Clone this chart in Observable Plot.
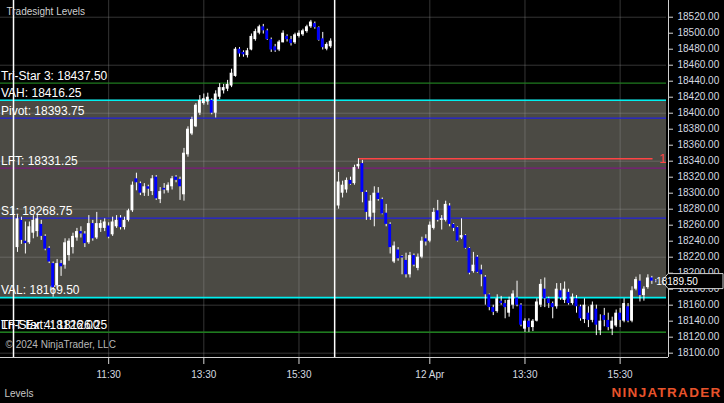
<!DOCTYPE html>
<html><head><meta charset="utf-8">
<script src="https://cdn.jsdelivr.net/npm/d3@7"></script>
<script src="https://cdn.jsdelivr.net/npm/@observablehq/plot@0.6"></script>
<style>html,body{margin:0;padding:0;background:#000;overflow:hidden}</style>
</head><body><div id="chart"></div>
<script>
// bar index: 1..81 = 11 Apr 09:35..16:15, 82..162 = 12 Apr 09:35..16:15 (5-minute bars)
const open = [18232,18266,18240,18238,18250,18252,18261,18246,18231,18212,18184,18212,18210,18222,18232,18244,18252,18249,18238,18262,18244,18256,18256,18259,18248,18258,18269,18257,18266,18278,18318,18312,18300,18308,18302,18320,18292,18306,18303,18308,18320,18317,18298,18348,18374,18383,18400,18412,18414,18416,18400,18420,18428,18430,18434,18446,18480,18476,18472,18479,18492,18500,18508,18503,18492,18483,18479,18488,18496,18492,18488,18496,18498,18502,18508,18512,18507,18493,18480,18483,18490,
18284,18300,18304,18316,18312,18333,18337,18301,18270,18275,18300,18292,18275,18261,18214,18229,18221,18216,18198,18222,18206,18220,18243,18240,18256,18278,18266,18266,18284,18261,18257,18244,18247,18231,18202,18220,18204,18195,18173,18157,18152,18165,18162,18150,18160,18169,18160,18130,18140,18132,18140,18160,18180,18168,18162,18158,18178,18166,18176,18162,18168,18158,18142,18150,18141,18155,18128,18147,18141,18130,18134,18150,18140,18158,18140,18180,18190,18172,18182,18194,18190];
const high = [18272,18270,18264,18264,18272,18274,18266,18248,18233,18214,18217,18216,18243,18243,18250,18256,18258,18252,18272,18266,18276,18266,18268,18263,18270,18272,18272,18270,18280,18314,18325,18314,18312,18310,18322,18322,18307,18312,18313,18321,18322,18320,18356,18383,18395,18412,18422,18424,18425,18418,18428,18437,18436,18441,18455,18482,18482,18478,18481,18499,18505,18510,18511,18505,18494,18486,18491,18503,18498,18496,18500,18503,18505,18510,18516,18514,18508,18501,18488,18493,18491,
18326,18315,18319,18320,18335,18343,18341,18303,18297,18308,18307,18294,18286,18263,18239,18232,18222,18225,18226,18224,18224,18245,18248,18264,18281,18291,18272,18290,18287,18262,18258,18268,18248,18232,18226,18222,18210,18197,18174,18160,18173,18171,18166,18170,18178,18190,18162,18143,18143,18142,18168,18192,18194,18170,18164,18187,18187,18189,18180,18174,18172,18160,18168,18158,18164,18160,18148,18156,18150,18145,18154,18156,18168,18162,18183,18195,18198,18183,18198,18196,18192];
const low = [18226,18236,18224,18236,18243,18245,18241,18228,18212,18170,18180,18196,18205,18215,18224,18240,18244,18232,18236,18240,18242,18251,18252,18243,18246,18256,18254,18254,18264,18276,18303,18297,18296,18296,18297,18291,18287,18299,18300,18304,18313,18291,18290,18345,18372,18382,18397,18410,18410,18398,18394,18417,18424,18427,18432,18445,18470,18470,18469,18478,18490,18498,18499,18491,18476,18476,18477,18488,18489,18484,18486,18494,18496,18500,18506,18505,18490,18479,18478,18481,18489,
18280,18294,18300,18310,18310,18330,18288,18266,18266,18258,18290,18273,18258,18224,18212,18215,18198,18194,18194,18208,18203,18218,18234,18238,18254,18264,18254,18264,18258,18252,18239,18242,18230,18198,18200,18200,18183,18160,18153,18147,18150,18160,18143,18145,18155,18158,18133,18126,18126,18127,18139,18157,18157,18156,18143,18155,18166,18162,18160,18160,18150,18140,18137,18132,18138,18122,18122,18133,18128,18122,18132,18132,18138,18138,18138,18178,18164,18165,18180,18186,18188];
const close = [18268,18241,18237,18258,18266,18268,18246,18230,18214,18182,18212,18208,18238,18240,18246,18252,18249,18237,18262,18243,18262,18262,18264,18245,18264,18266,18257,18266,18278,18310,18313,18300,18308,18305,18318,18293,18302,18304,18310,18318,18316,18308,18350,18380,18392,18410,18416,18418,18420,18400,18424,18432,18432,18436,18450,18480,18474,18473,18478,18496,18502,18508,18503,18492,18479,18478,18489,18500,18492,18487,18498,18500,18503,18508,18514,18507,18491,18482,18486,18490,18490,
18314,18310,18316,18311,18332,18336,18301,18276,18290,18300,18292,18274,18261,18232,18234,18218,18219,18198,18222,18210,18220,18240,18239,18260,18276,18266,18268,18286,18261,18256,18240,18247,18231,18200,18210,18201,18198,18173,18157,18151,18168,18162,18157,18166,18174,18160,18135,18140,18132,18140,18164,18186,18168,18162,18157,18180,18169,18180,18162,18170,18158,18143,18160,18141,18160,18135,18140,18141,18132,18140,18150,18141,18162,18140,18178,18192,18172,18180,18194,18190,18189.5];

const levelNames  = ["Tri-Star 3","VAH","Pivot","LFT","S1","VAL","Tri-Star 4","LFT Ext"];
const levelValues = [18437.50,18416.25,18393.75,18331.25,18268.75,18169.50,18126.25,18126.00];
const levelColors = ["#1f7a1f","#00f0f0","#2222dd","#7d1a7d","#2222dd","#00f0f0","#1f7a1f","#1f7a1f"];

const yTicks = [18100,18120,18140,18160,18180,18200,18220,18240,18260,18280,18300,18320,18340,18360,18380,18400,18420,18440,18460,18480,18500,18520];
const gridY = [18100,18160,18220,18280,18340,18400,18460,18520];
const xTickIndex = [24,48,72,105,129,153];
const xTickLabels = ["11:30","13:30","15:30","12 Apr","13:30","15:30"];
const sessionBreaks = [0,81];
const redLevel = 18343, redStart = 87, redEnd = 161.3;
const lastClose = close[close.length-1];

const xMin = -3.28, xMax = 165.2, xBoxEnd = 164.7;
const bars = close.map((c,k)=>({i:k+1,o:open[k],h:high[k],l:low[k],c}));
const levels = levelNames.map((n,k)=>({name:n,value:levelValues[k],color:levelColors[k]}));
const vah = levelValues[1], val = levelValues[5];

const plot = Plot.plot({
  width: 724, height: 403,
  marginLeft: 0, marginRight: 56, marginTop: 0, marginBottom: 46,
  style: {background:"#000", color:"#d6d6d6", fontFamily:"'Liberation Sans', Arial, sans-serif", fontSize:"10px", overflow:"visible"},
  x: {domain:[xMin,xMax], axis:null, label:null},
  y: {domain:[18094.6,18540.9], axis:null, label:null},
  marks: [
    Plot.rect([0], {x1:xMin, x2:xBoxEnd, y1:val, y2:vah, fill:"#4b4a44"}),
    Plot.ruleY(gridY, {x1:xMin, x2:xBoxEnd, stroke:"#a0a0a0", strokeOpacity:0.33}),
    Plot.ruleX(xTickIndex, {stroke:"#a0a0a0", strokeOpacity:0.33}),
    Plot.ruleY(levels, {y:"value", x1:xMin, x2:xBoxEnd, stroke:"color", strokeWidth:d=>d.color==="#00f0f0"?1.6:1.2}),
    Plot.ruleY([redLevel], {x1:redStart, x2:redEnd, stroke:"#ff4444", strokeWidth:1.6}),
    Plot.text(["1"], {x:163.7, y:redLevel, fill:"#ff4444", fontSize:13, lineAnchor:"middle"}),
    Plot.text(levels, {x:xMin, y:"value", text:d=>`${d.name}: ${d.value.toFixed(2)}`, dx:0.5, dy:-7, textAnchor:"start", lineAnchor:"middle", fill:"#ffffff", fontSize:12}),
    Plot.ruleX(bars, {x:"i", y1:"l", y2:"h", stroke:"#ffffff", strokeWidth:1}),
    Plot.rect(bars, {x1:d=>d.i-0.36, x2:d=>d.i+0.36, y1:"o", y2:"c", fill:d=>d.c>=d.o?"#ffffff":"#0000ff"}),
    Plot.ruleX(sessionBreaks, {stroke:"#ffffff", strokeWidth:1.5}),
    Plot.ruleX([xMax], {stroke:"#d0d0d0"}),
    Plot.ruleY([18094.6], {stroke:"#d0d0d0"}),
    Plot.axisY({anchor:"right", label:null, ticks:yTicks, tickFormat:d=>d.toFixed(2), tickSize:4, tickPadding:5, fill:"#d6dbe0", fontSize:10}),
    Plot.axisX({anchor:"bottom", label:null, ticks:xTickIndex, tickFormat:d=>xTickLabels[xTickIndex.indexOf(d)], tickSize:7, tickPadding:6, fill:"#d6dbe0", fontSize:10}),
    Plot.text(["Tradesight Levels"], {frameAnchor:"top-left", dx:6, dy:11, textAnchor:"start", lineAnchor:"middle", fill:"#cfcfcf", fontSize:10}),
    Plot.text(["© 2024 NinjaTrader, LLC"], {frameAnchor:"bottom-left", dx:5, dy:-13, textAnchor:"start", lineAnchor:"middle", fill:"#b8b8b8", fontSize:10}),
    Plot.text(["Levels"], {frameAnchor:"bottom-left", dx:4, dy:36, textAnchor:"start", lineAnchor:"middle", fill:"#c8c8c8", fontSize:10}),
    Plot.text(["NINJATRADER"], {frameAnchor:"bottom-right", dx:-57, dy:35.5, textAnchor:"start", lineAnchor:"middle", fill:"#e8532b", fontSize:13.5, fontWeight:"bold"})
  ]
});
document.getElementById("chart").appendChild(plot);

const svg = d3.select(plot);
svg.selectAll("text").filter(function(){ return this.textContent === "NINJATRADER"; }).attr("letter-spacing", "1.3px");

// last-price marker on the price axis
const yPos = plot.scale("y").apply(lastClose);
const xPos = plot.scale("x").apply(xMax);
svg.append("path")
  .attr("d", `M${xPos-6},${yPos} L${xPos},${yPos-7.5} H${xPos+55} V${yPos+7.5} H${xPos} Z`)
  .attr("fill","#000").attr("stroke","#d0d0d0").attr("stroke-width",1);
svg.append("text").attr("x", xPos+9).attr("y", yPos).attr("dy","0.35em")
  .attr("fill","#ffffff").attr("font-size",10).attr("font-family","'Liberation Sans', Arial, sans-serif")
  .text(lastClose.toFixed(2));
</script></body></html>
